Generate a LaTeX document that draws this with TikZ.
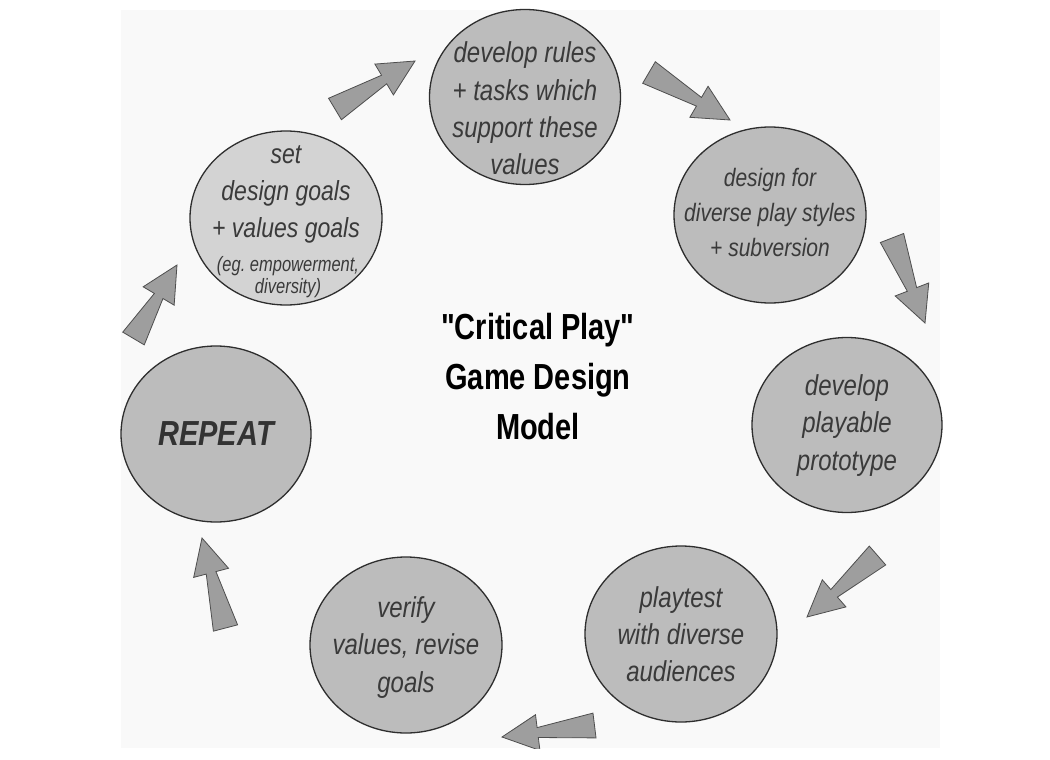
\documentclass[tikz,border=0pt]{standalone}
\usepackage{fontspec}
\setmainfont{Liberation Sans}[Ligatures=TeXOff]
\usetikzlibrary{shapes.geometric,calc}
\frenchspacing
\definecolor{bgc}{HTML}{F9F9F9}
\definecolor{ellc}{HTML}{BCBCBC}
\definecolor{ellca}{HTML}{D3D3D3}
\definecolor{linec}{HTML}{2E2E2E}
\definecolor{txtc}{HTML}{3A3A3A}
\definecolor{arrc}{HTML}{9E9E9E}
\definecolor{arrl}{HTML}{4E4E4E}
\tikzset{
  ell/.style={ellipse, draw=linec, line width=1.3pt, fill=ellc, inner sep=0pt},
  etext/.style={align=center, text=txtc, inner sep=0pt, yscale=1.2,
    font=\fontsize{24}{31}\selectfont\itshape},
  barrow/.style={fill=arrc, draw=arrl, line width=0.8pt, line join=miter},
}
\newcommand\blockarrow[2]{%
  \path ($(#2)!36pt!(#1)$) coordinate (nk);
  \draw[barrow] ($(#1)!12.5pt!90:(#2)$) -- ($(nk)!5pt!90:(#2)$) -- ($(nk)!18pt!90:(#2)$)
    -- (#2) -- ($(nk)!18pt!-90:(#2)$) -- ($(nk)!5pt!-90:(#2)$) -- ($(#1)!12.5pt!-90:(#2)$) -- cycle;}
\begin{document}
\begin{tikzpicture}[x=1pt,y=-1pt]
\useasboundingbox (0,0) rectangle (1050,760);
\fill[white] (0,0) rectangle (1050,760);
\fill[bgc] (121,10) rectangle (940,748);

% ellipses
\node[ell, fill=ellca, minimum width=192pt, minimum height=174pt] (e1) at (286,218) {};
\node[ell, minimum width=191pt, minimum height=175pt] (e2) at (525,97) {};
\node[ell, minimum width=192pt, minimum height=176pt] (e3) at (770,215) {};
\node[ell, minimum width=190pt, minimum height=175pt] (e4) at (847,425) {};
\node[ell, minimum width=192pt, minimum height=176pt] (e5) at (681,634) {};
\node[ell, minimum width=192pt, minimum height=176pt] (e6) at (406,645) {};
\node[ell, minimum width=190pt, minimum height=176pt] (e7) at (216,434) {};

% texts
\node[etext, font=\fontsize{23}{31}\selectfont\itshape] (t1) at (286,194.5) {set\\design goals\\+ values goals};
\node[etext, yscale=1.05, font=\fontsize{16.5}{18}\selectfont\itshape] (t1b) at (288,277) {(eg. empowerment,\\diversity)};
\node[etext] (t2) at (525,108.5) {develop rules\\+ tasks which\\support these\\values};
\node[etext, font=\fontsize{21}{29.5}\selectfont\itshape] (t3) at (770,212.5) {design for\\diverse play styles\\+ subversion};
\node[etext] (t4) at (847,425.5) {develop\\playable\\prototype};
\node[etext] (t5) at (681,634) {playtest\\with diverse\\audiences};
\node[etext] (t6) at (406,647.5) {verify\\values, revise\\goals};
\node[etext, text=black!80, font=\fontsize{29}{31}\selectfont\bfseries\itshape] (t7) at (216,434) {REPEAT};

% title
\node[align=center, inner sep=0pt, yscale=1.25, font=\fontsize{29}{40}\selectfont\bfseries] (title) at (538,377) {"Critical Play"\\Game Design\\Model};

% arrows
\coordinate (a1t) at (335,109);   \coordinate (a1h) at (415,61);
\coordinate (a2t) at (649,72.5);  \coordinate (a2h) at (730,120);
\coordinate (a3t) at (892,238);   \coordinate (a3h) at (925,323);
\coordinate (a4t) at (877.5,555.5); \coordinate (a4h) at (807,617);
\coordinate (a5t) at (594.5,725.5); \coordinate (a5h) at (502,737);
\coordinate (a6t) at (225.5,628); \coordinate (a6h) at (202,538);
\coordinate (a7t) at (133.5,338.5); \coordinate (a7h) at (177,265);
\begin{scope}
\clip (121,10) rectangle (940,748);
\blockarrow{a1t}{a1h}
\blockarrow{a2t}{a2h}
\blockarrow{a3t}{a3h}
\blockarrow{a4t}{a4h}
\blockarrow{a5t}{a5h}
\blockarrow{a6t}{a6h}
\blockarrow{a7t}{a7h}
\end{scope}
\end{tikzpicture}
\end{document}
